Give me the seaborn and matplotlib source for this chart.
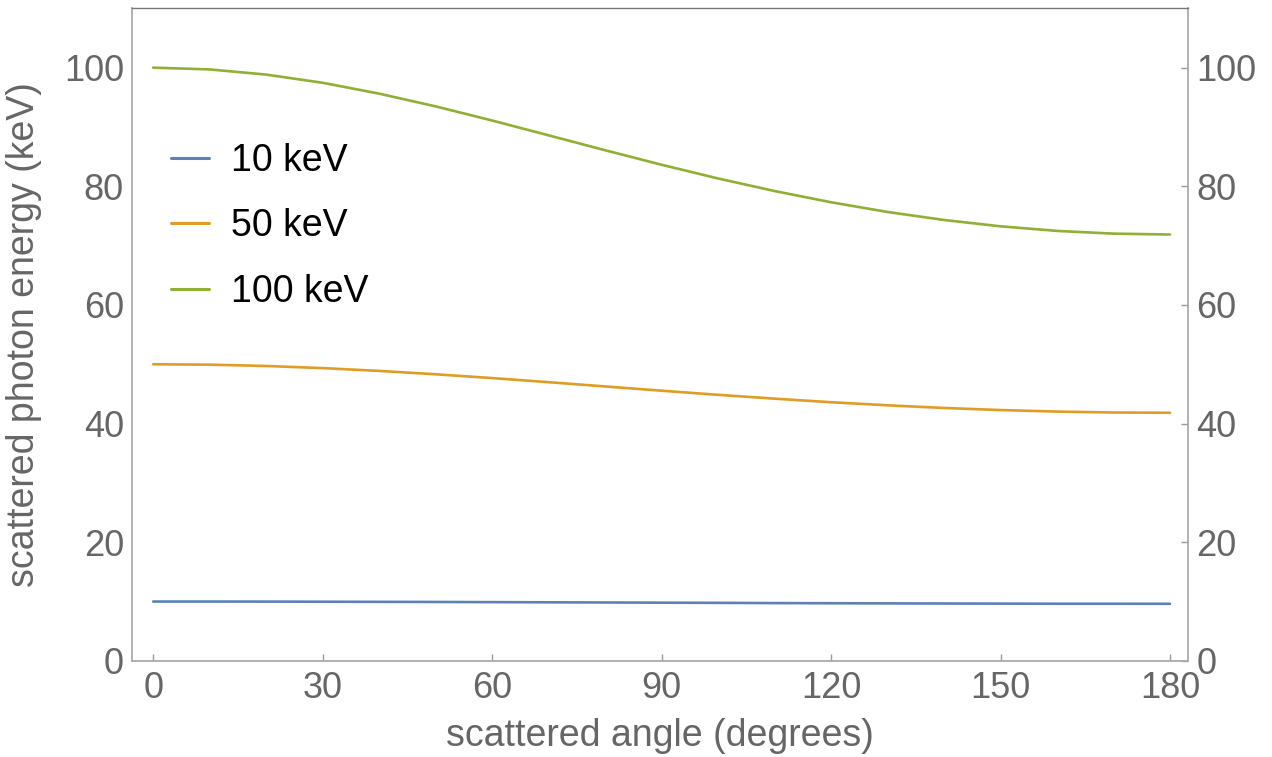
"""
Compton scattering: scattered photon energy vs scattering angle.
"""

import pandas as pd
import seaborn as sns
import matplotlib.pyplot as plt

# values, every 10 degrees
angles = [0, 10, 20, 30, 40, 50, 60, 70, 80, 90, 100, 110, 120, 130, 140, 150, 160, 170, 180]
energy_10 = [10.00, 10.00, 9.99, 9.97, 9.95, 9.93, 9.90, 9.87, 9.84, 9.81,
             9.78, 9.74, 9.71, 9.69, 9.67, 9.65, 9.63, 9.63, 9.62]
energy_50 = [50.00, 49.93, 49.71, 49.35, 48.88, 48.31, 47.67, 46.98, 46.26, 45.54,
             44.85, 44.20, 43.60, 43.08, 42.63, 42.28, 42.02, 41.87, 41.82]
energy_100 = [100.00, 99.70, 98.83, 97.45, 95.62, 93.47, 91.09, 88.59, 86.08, 83.63,
              81.32, 79.20, 77.31, 75.67, 74.32, 73.25, 72.48, 72.02, 71.87]
series_labels = ['10 keV', '50 keV', '100 keV']
x_ticks = [0, 30, 60, 90, 120, 150, 180]
y_ticks = [0, 20, 40, 60, 80, 100]

df = pd.concat([
    pd.DataFrame({'angle': angles, 'energy': vals, 'series': lab})
    for vals, lab in zip([energy_10, energy_50, energy_100], series_labels)
])

sns.set_style('white')
plt.rcParams['font.family'] = ['Liberation Sans', 'DejaVu Sans']

palette = {'10 keV': '#5E81B5', '50 keV': '#E19C24', '100 keV': '#8FB032'}
gray = '#666666'

fig, ax = plt.subplots(figsize=(12.72, 7.57), dpi=100)
fig.subplots_adjust(left=0.104, right=0.934, top=0.989, bottom=0.127)

sns.lineplot(data=df, x='angle', y='energy', hue='series', palette=palette,
             linewidth=1.9, ax=ax)

ax.set_xlim(-3.7, 183.2)
ax.set_ylim(0, 110)
ax.set_xticks(x_ticks)
ax.set_yticks(y_ticks)
ax.tick_params(axis='both', direction='in', length=5, width=1, color='#999999',
               labelsize=26, labelcolor=gray, pad=5)
ax.tick_params(axis='x', bottom=True, top=False, pad=7)
ax.tick_params(axis='y', right=True, labelright=True, pad=6)

for side in ['left', 'right', 'bottom']:
    ax.spines[side].set_color('#aaaaaa')
    ax.spines[side].set_linewidth(1.3)
ax.spines['top'].set_color('#777777')
ax.spines['top'].set_linewidth(1.0)

ax.set_xlabel('scattered angle (degrees)', fontsize=27, color=gray, labelpad=9)
ax.set_ylabel('scattered photon energy (keV)', fontsize=27, color=gray, labelpad=16)

leg = ax.legend(loc='upper left', bbox_to_anchor=(0.005, 0.845), frameon=False,
                fontsize=27, handlelength=1.0, handletextpad=0.6, labelspacing=0.78)
for text in leg.get_texts():
    text.set_color('black')
for line in leg.get_lines():
    line.set_linewidth(2.2)

fig.savefig('out.png', dpi=100)
